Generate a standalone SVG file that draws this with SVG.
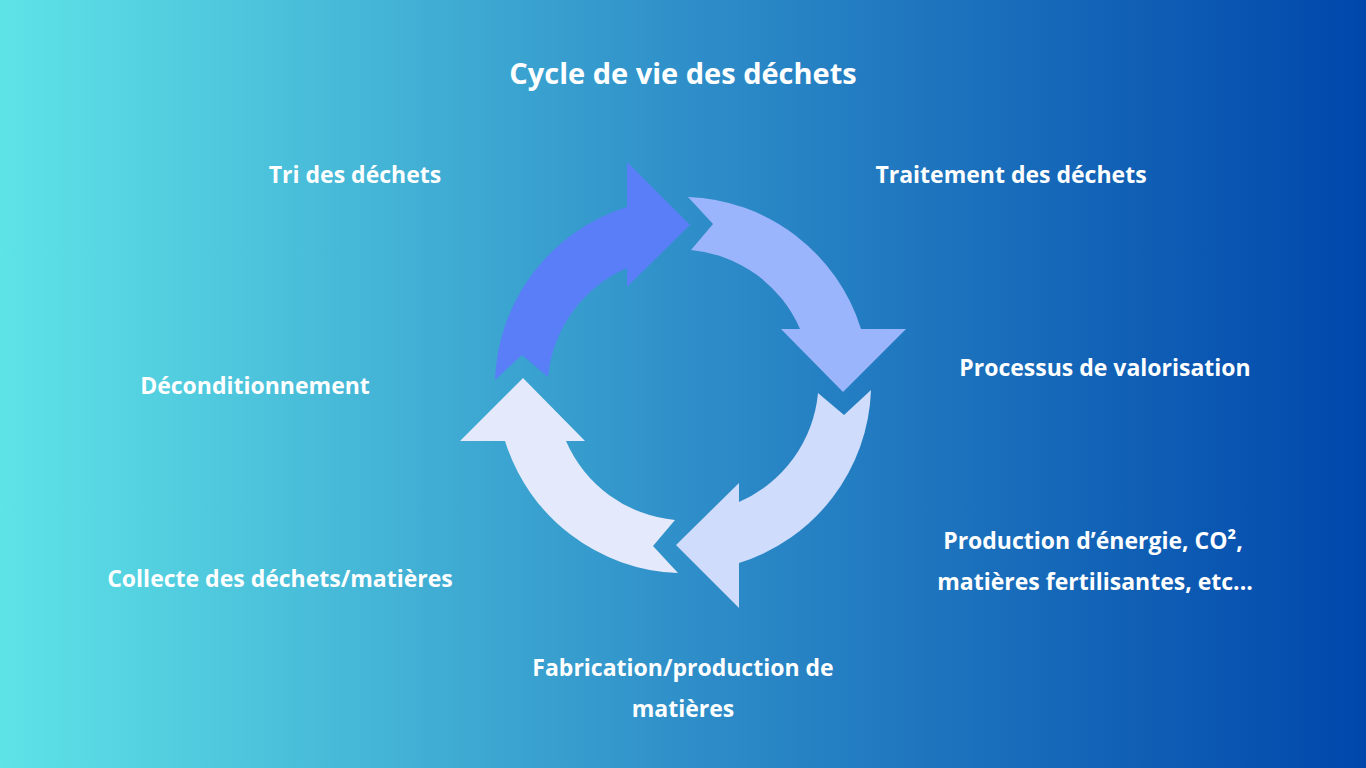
<svg xmlns="http://www.w3.org/2000/svg" width="1366" height="768" viewBox="0 0 1366 768">
<defs>
<linearGradient id="bg" x1="0" y1="0" x2="1" y2="0">
<stop offset="0" stop-color="#5ee3e7"/>
<stop offset="0.5" stop-color="#2f8fc9"/>
<stop offset="1" stop-color="#0047ab"/>
</linearGradient>
<path id="arr" d="M495,380 A188,188 0 0 1 627,207 L627,162 L690,225 L627,287 L627,268 A132,132 0 0 0 548,377 L522,355 Z"/>
</defs>
<style>
text{font-family:"Open Sans","DejaVu Sans",sans-serif;font-weight:700;fill:#ffffff;font-size:23px;text-anchor:middle}
.title{font-size:29px}
</style>
<rect width="1366" height="768" fill="url(#bg)"/>
<g id="connectors">
<use id="a1" href="#arr" fill="#5a7ef8"/>
<use id="a2" href="#arr" fill="#9bb5fc" transform="rotate(90 683 385)"/>
<use id="a3" href="#arr" fill="#cfdcfb" transform="rotate(180 683 385)"/>
<use id="a4" href="#arr" fill="#e4eafb" transform="rotate(270 683 385)"/>
</g>
<g id="title"><text class="title" x="683" y="84">Cycle de vie des déchets</text></g>
<g id="n1"><text x="355" y="183">Tri des déchets</text></g>
<g id="n2"><text x="1011" y="183">Traitement des déchets</text></g>
<g id="n3"><text x="1105" y="376">Processus de valorisation</text></g>
<g id="n4"><text x="1093" y="549">Production d’énergie, CO², </text><text x="1095" y="590">matières fertilisantes, etc...</text></g>
<g id="n5"><text x="683" y="676">Fabrication/production de</text><text x="683" y="717">matières</text></g>
<g id="n6"><text x="280" y="587">Collecte des déchets/matières</text></g>
<g id="n7"><text x="255" y="394">Déconditionnement</text></g>
</svg>
